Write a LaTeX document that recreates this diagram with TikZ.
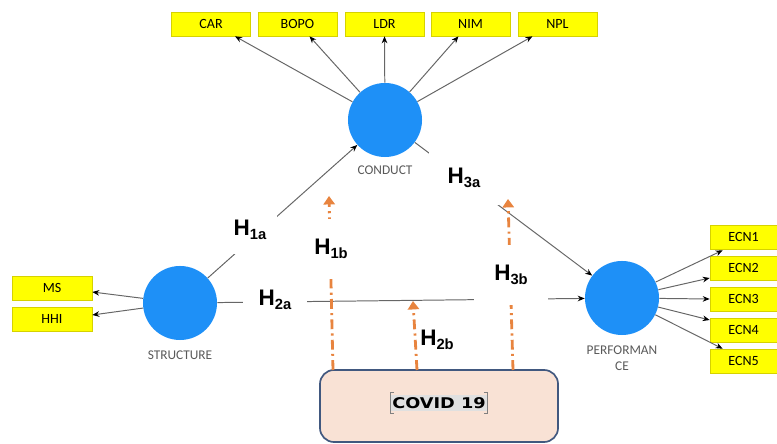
\documentclass[tikz,border=0pt]{standalone}
\usepackage{fontspec}
\setmainfont{Carlito}
\newfontfamily\hypfont{Liberation Sans}
\newfontfamily\covfont{DejaVu Sans}
\usetikzlibrary{calc,arrows.meta,positioning}
\definecolor{latblue}{HTML}{1E90F7}
\definecolor{indyellow}{HTML}{FFFF00}
\definecolor{indedge}{HTML}{D6D200}
\definecolor{modorange}{HTML}{E8843F}
\definecolor{covfill}{HTML}{F9E2D5}
\definecolor{covedge}{HTML}{41587F}
\newcommand{\hyp}[1]{{\hypfont\bfseries\fontsize{16}{18}\selectfont H\raisebox{-0.3ex}{\fontsize{10.5}{12}\selectfont #1}}}

\begin{document}
\begin{tikzpicture}[x=0.025cm,y=-0.025cm,
	latent/.style={circle,fill=latblue,minimum size=1.85cm,inner sep=0},
	indicator/.style={draw=indedge,fill=indyellow,minimum width=1.97cm,minimum height=0.6cm,inner sep=0,font=\fontsize{10}{11}\selectfont},
	caption/.style={text=black!65,font=\fontsize{9.5}{11.5}\selectfont,align=center},
	hyplabel/.style={fill=white,inner sep=0},
	path/.style={draw=black!60,line width=0.7pt,-{Stealth[length=5pt,width=4pt,color=black]}},
	moderate/.style={draw=modorange,line width=2pt,dash pattern=on 7pt off 3pt on 1.5pt off 3pt,-{Triangle[length=6pt,width=8pt]}}]
	\useasboundingbox (0,0) rectangle (777,444);
	
	%latent variables
	\node[latent] (conduct) at (385,120){};
	\node[latent] (structure) at (180,303){};
	\node[latent] (performance) at (622,298){};
	\node[caption] (conductlab) at (385,170){CONDUCT};
	\node[caption] (structurelab) at (180,355){STRUCTURE};
	\node[caption] (performancelab) at (622,358){PERFORMAN\\CE};
	
	%indicators
	\node[indicator] (car) at (211,24){CAR};
	\node[indicator] (bopo) at (297.5,24){BOPO};
	\node[indicator] (ldr) at (384.5,24){LDR};
	\node[indicator] (nim) at (470.5,24){NIM};
	\node[indicator] (npl) at (557.5,24){NPL};
	\node[indicator,minimum width=2cm] (ms) at (52,288){MS};
	\node[indicator,minimum width=2cm] (hhi) at (52,319){HHI};
	\node[indicator,minimum width=1.675cm] (ecn1) at (743.5,237){ECN1};
	\node[indicator,minimum width=1.675cm] (ecn2) at (743.5,268){ECN2};
	\node[indicator,minimum width=1.675cm] (ecn3) at (743.5,299){ECN3};
	\node[indicator,minimum width=1.675cm] (ecn4) at (743.5,330){ECN4};
	\node[indicator,minimum width=1.675cm] (ecn5) at (743.5,361){ECN5};
	
	%covid box
	\node[draw=covedge,fill=covfill,line width=1.2pt,rounded corners=10pt,minimum width=5.95cm,minimum height=1.8cm] (covid) at (439,406){};
	\coordinate (m1) at (333,370);
	\coordinate (m2) at (417,370);
	\coordinate (m3) at (513,370);
	\coordinate (t1) at (329,196);
	\coordinate (t2) at (413,301);
	\coordinate (t3) at (508,199);
	
	%outer loadings
	\draw[path] (conduct) -- ($(car.south)+(24,0)$);
	\draw[path] (conduct) -- ($(bopo.south)+(12,0)$);
	\draw[path] (conduct) -- (ldr.south);
	\draw[path] (conduct) -- ($(nim.south)+(-12,0)$);
	\draw[path] (conduct) -- ($(npl.south)+(-25,0)$);
	\draw[path] (structure) -- ($(ms.east)+(0,4)$);
	\draw[path] (structure) -- ($(hhi.east)+(0,-4)$);
	\draw[path] (performance) -- ($(ecn1.south west)+(13,1)$);
	\draw[path] (performance) -- ($(ecn2.west)+(0,10)$);
	\draw[path] (performance) -- (ecn3.west);
	\draw[path] (performance) -- ($(ecn4.west)+(0,-10)$);
	\draw[path] (performance) -- ($(ecn5.north west)+(13,0)$);
	
	%inner paths
	\draw[path] (structure.42) -- (conduct.222);
	\draw[path] (structure) -- (performance);
	\draw[path] (conduct) -- (performance);
	
	%moderating arrows
	\draw[moderate] (m1) -- (t1);
	\draw[moderate] (m2) -- (t2);
	\draw[moderate] (m3) -- (t3);
	
	%hypotheses
	\node[hyplabel,minimum width=1.35cm,minimum height=1.2cm] (h1a) at (250,230){\hyp{1a}};
	\node[hyplabel,minimum width=1.1cm,minimum height=1.5cm] (h1b) at (331,249){\hyp{1b}};
	\node[hyplabel,minimum width=1.6cm,minimum height=0.7cm] (h2a) at (275,300){\hyp{2a}};
	\node[hyplabel] (h2b) at (437,340){\hyp{2b}};
	\node[hyplabel,minimum width=1.75cm,minimum height=1.35cm] (h3a) at (464,178){\hyp{3a}};
	\node[hyplabel,minimum width=1.825cm,minimum height=1.5cm] (h3b) at (511,275){\hyp{3b}};
	
	%covid text
	\node[fill=black!12,inner xsep=1pt,inner ysep=2pt] (covidtxt) at (439,403){\scalebox{1.2}[1]{\covfont\bfseries\fontsize{10.5}{12}\selectfont COVID 19}};
	\draw[black!50,line width=0.8pt] ([xshift=2.5pt,yshift=1pt]covidtxt.north west) -- ([yshift=1pt]covidtxt.north west) -- ([yshift=-1pt]covidtxt.south west) -- ([xshift=2.5pt,yshift=-1pt]covidtxt.south west);
	\draw[black!50,line width=0.8pt] ([xshift=-2.5pt,yshift=1pt]covidtxt.north east) -- ([yshift=1pt]covidtxt.north east) -- ([yshift=-1pt]covidtxt.south east) -- ([xshift=-2.5pt,yshift=-1pt]covidtxt.south east);
\end{tikzpicture}
\end{document}
